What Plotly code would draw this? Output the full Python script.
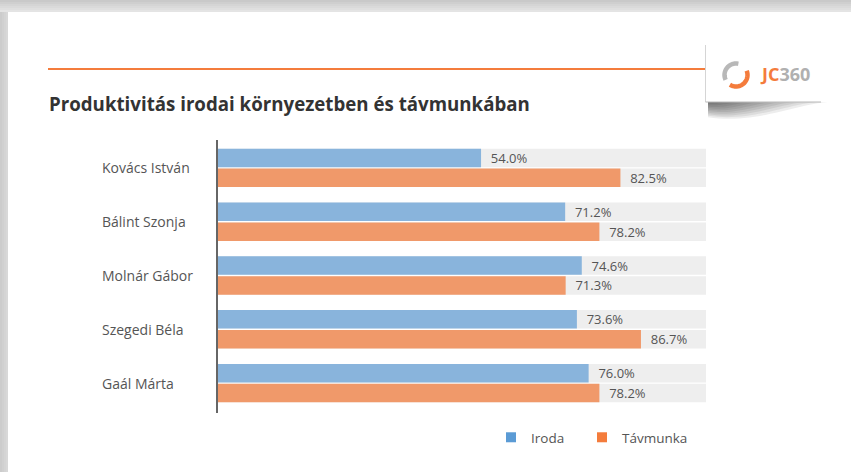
import numpy as np
import plotly.graph_objects as go

# ---- data ----
names = ["Kovács István", "Bálint Szonja", "Molnár Gábor", "Szegedi Béla", "Gaál Márta"]
iroda = [54.0, 71.2, 74.6, 73.6, 76.0]
tavmunka = [82.5, 78.2, 71.3, 86.7, 78.2]
full = [100, 100, 100, 100, 100]
series_names = ["Iroda", "Távmunka"]
title_text = "Produktivitás irodai környezetben és távmunkában"

# ---- geometry ----
W, H = 851, 472
ML, MR, MT, MB = 217, 145, 141, 62
PW = W - ML - MR
PH = H - MT - MB


def px(xp):
    return (xp - ML) / PW


def py(yp):
    return (H - MB - yp) / PH


FONT = "Open Sans, Noto Sans, DejaVu Sans, sans-serif"
TXT = "#555555"
BLUE_BAR, ORANGE_BAR = "#89b4dc", "#f0996a"
BLUE_LEG, ORANGE_LEG = "#5b9bd5", "#f47c3c"
BG_BAR = "#eeeeee"

fig = go.Figure()

fig.add_trace(go.Bar(y=names, x=full, orientation="h", offsetgroup="a",
                     marker=dict(color=BG_BAR, line=dict(width=0)),
                     showlegend=False, hoverinfo="skip"))
fig.add_trace(go.Bar(y=names, x=full, orientation="h", offsetgroup="b",
                     marker=dict(color=BG_BAR, line=dict(width=0)),
                     showlegend=False, hoverinfo="skip"))
fig.add_trace(go.Bar(y=names, x=iroda, orientation="h", offsetgroup="a",
                     name=series_names[0],
                     marker=dict(color=BLUE_BAR, line=dict(width=0)),
                     texttemplate="\u00a0\u00a0%{x:.1f}%", textposition="outside",
                     textfont=dict(family=FONT, size=13, color=TXT),
                     cliponaxis=False, showlegend=False, hoverinfo="skip"))
fig.add_trace(go.Bar(y=names, x=tavmunka, orientation="h", offsetgroup="b",
                     name=series_names[1],
                     marker=dict(color=ORANGE_BAR, line=dict(width=0)),
                     texttemplate="\u00a0\u00a0%{x:.1f}%", textposition="outside",
                     textfont=dict(family=FONT, size=13, color=TXT),
                     cliponaxis=False, showlegend=False, hoverinfo="skip"))

# legend-only entries (one legend each, to place them like the original)
for nm, col, lg in zip(series_names, [BLUE_LEG, ORANGE_LEG], ["legend", "legend2"]):
    fig.add_trace(go.Scatter(x=[None], y=[None], mode="markers", name=nm,
                             legend=lg,
                             marker=dict(symbol="square", size=10, color=col),
                             hoverinfo="skip"))

shapes = []
# page frame shading (top & left)
top_cols = ["#c9c9c9", "#cfcfcf", "#d5d5d5", "#dadada", "#dfdfdf", "#e4e4e4"]
for i, c in enumerate(top_cols):
    shapes.append(dict(type="rect", xref="paper", yref="paper",
                       x0=px(0), x1=px(W), y0=py(i * 2), y1=py(i * 2 + 2),
                       fillcolor=c, line=dict(width=0), layer="below"))
left_cols = ["#cccccc", "#d0d0d0", "#d4d4d4", "#d8d8d8"]
for i, c in enumerate(left_cols):
    shapes.append(dict(type="rect", xref="paper", yref="paper",
                       x0=px(i * 2), x1=px(i * 2 + 2), y0=py(12), y1=py(H),
                       fillcolor=c, line=dict(width=0), layer="below"))
# orange rule
shapes.append(dict(type="line", xref="paper", yref="paper",
                   x0=px(48), x1=px(706), y0=py(69), y1=py(69),
                   line=dict(color="#f47c3c", width=2)))


# logo shadow: stacked translucent wedges -> soft gradient
def poly(points):
    return "M" + " L".join(f"{px(a):.5f},{py(b):.5f}" for a, b in points) + " Z"


for k in range(10):
    s = 1 - k / 10.0
    depth = 20 * s
    span = 112 * s + 8
    xs = np.linspace(708, 708 + span, 24)
    bottom = [(x, 102 + depth * np.sin(np.pi * min(1.0, 0.25 + 0.75 * (x - 708) / span)) ** 0.8
               * (1 - (x - 708) / span) ** 0.6) for x in xs]
    pts = [(708, 102)] + bottom + [(xs[-1], 102)]
    shapes.append(dict(type="path", xref="paper", yref="paper", path=poly(pts),
                       fillcolor="black", opacity=0.07, line=dict(width=0)))
# logo box
shapes.append(dict(type="rect", xref="paper", yref="paper",
                   x0=px(705.5), x1=px(821), y0=py(45), y1=py(102),
                   fillcolor="white", line=dict(width=0)))
shapes.append(dict(type="line", xref="paper", yref="paper",
                   x0=px(705.5), x1=px(705.5), y0=py(45), y1=py(102),
                   line=dict(color="#d5d5d5", width=1)))
shapes.append(dict(type="line", xref="paper", yref="paper",
                   x0=px(705.5), x1=px(821), y0=py(102), y1=py(102),
                   line=dict(color="#b8b8b8", width=1)))


# logo ring arcs
def arc_path(cx, cy, r, a0, a1, n=40):
    t = np.radians(np.linspace(a0, a1, n))
    pts = [(px(cx + r * np.cos(a)), py(cy - r * np.sin(a))) for a in t]
    return "M" + " L".join(f"{x:.5f},{y:.5f}" for x, y in pts)


shapes.append(dict(type="path", xref="paper", yref="paper",
                   path=arc_path(736, 75, 11.5, 78, 205),
                   line=dict(color="#b8b8b8", width=4.5)))
shapes.append(dict(type="path", xref="paper", yref="paper",
                   path=arc_path(736, 75, 11.5, 22, -122),
                   line=dict(color="#f47c3c", width=4.5)))

annotations = []
annotations.append(dict(xref="paper", yref="paper", x=px(758), y=py(74),
                        xanchor="left", yanchor="middle", showarrow=False,
                        text="<b><span style='color:#f47c3c'>JC</span>"
                             "<span style='color:#b0b0b0'>360</span></b>",
                        font=dict(family=FONT, size=18)))
annotations.append(dict(xref="paper", yref="paper", x=px(47), y=py(103),
                        xanchor="left", yanchor="middle", showarrow=False,
                        text="<b>" + title_text + "</b>",
                        font=dict(family=FONT, size=18.7, color="#333333")))
for nm in names:
    annotations.append(dict(xref="paper", yref="y", x=px(100), y=nm,
                            xanchor="left", yanchor="middle", showarrow=False,
                            text=nm, font=dict(family=FONT, size=14, color=TXT)))

leg_common = dict(orientation="h", xanchor="left", yanchor="middle", y=py(437.5),
                  font=dict(family=FONT, size=13.5, color=TXT),
                  bgcolor="rgba(0,0,0,0)")

fig.update_layout(
    width=W, height=H,
    margin=dict(l=ML, r=MR, t=MT, b=MB),
    paper_bgcolor="white", plot_bgcolor="white",
    barmode="group", bargap=0.26, bargroupgap=0.07,
    xaxis=dict(range=[0, 100], visible=False, fixedrange=True),
    yaxis=dict(autorange="reversed", showticklabels=False, showgrid=False,
               zeroline=False, showline=False, ticks="", fixedrange=True),
    shapes=shapes + [dict(type="line", xref="paper", yref="paper",
                          x0=0, x1=0, y0=py(140), y1=py(413),
                          line=dict(color="#666666", width=2))],
    annotations=annotations,
    showlegend=True,
    legend=dict(x=px(491), **leg_common),
    legend2=dict(x=px(582), **leg_common),
    font=dict(family=FONT),
)

fig.write_html("out.html")
